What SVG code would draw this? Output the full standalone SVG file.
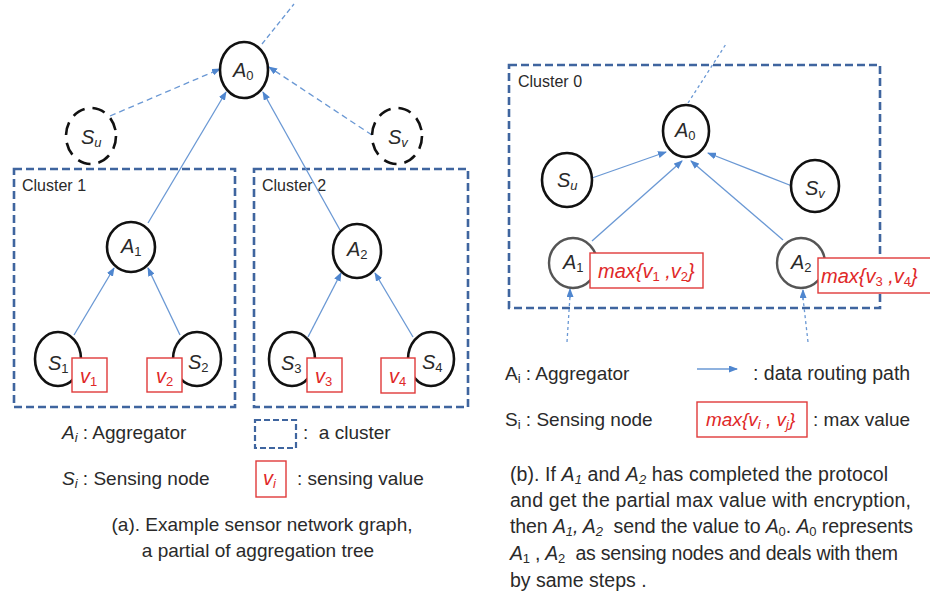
<svg xmlns="http://www.w3.org/2000/svg" width="930" height="592" viewBox="0 0 930 592">
<style>
text{font-family:"Liberation Sans","DejaVu Sans",sans-serif;fill:#2a2a2a}
.node{fill:#fff;stroke:#111;stroke-width:2.6}
.gnode{fill:#fff;stroke:#555;stroke-width:2.4}
.dnode{fill:#fff;stroke:#111;stroke-width:2.6;stroke-dasharray:13 8}
.clu{fill:none;stroke:#3f659f;stroke-width:2.6;stroke-dasharray:8 4}
.val{fill:#fff;stroke:#e03a3a;stroke-width:1.4}
.red{fill:#e02828}
.lbl{font-size:20px}
.it{font-style:italic}
.sub{font-size:13px}
.ar{stroke:#6a98d4;stroke-width:1.3;fill:none;marker-end:url(#ah)}
.dar{stroke:#6a98d4;stroke-width:1.3;fill:none;stroke-dasharray:6 4;marker-end:url(#ah)}
.dot{stroke:#6a98d4;stroke-width:1.3;fill:none;stroke-dasharray:3 3}
.leg{font-size:19px}
.par{font-size:19.5px}
</style>
<defs>
<marker id="ah" markerWidth="9" markerHeight="7" refX="8" refY="3.5" orient="auto" markerUnits="userSpaceOnUse">
<path d="M0,0 L9,3.5 L0,7 z" fill="#4f86cf"/>
</marker>
</defs>

<!-- clusters -->
<g id="cluster1"><rect class="clu" x="14" y="169" width="221" height="238"/><text x="22" y="191" font-size="16">Cluster 1</text></g>
<g id="cluster2"><rect class="clu" x="254" y="169" width="214" height="238"/><text x="262" y="191" font-size="16">Cluster 2</text></g>
<g id="cluster0"><rect class="clu" x="509" y="65" width="371" height="243"/><text x="518" y="87" font-size="16">Cluster 0</text></g>

<!-- connectors -->
<g id="connectors">
<line class="dot" x1="262" y1="44" x2="294" y2="4" style="stroke-dasharray:5 3"/>
<line class="dar" x1="110" y1="116" x2="220" y2="69"/>
<line class="dar" x1="372" y1="135" x2="269" y2="67"/>
<line class="ar" x1="148" y1="223" x2="226" y2="92"/>
<line class="ar" x1="340" y1="230" x2="263" y2="92"/>
<line class="ar" x1="74" y1="335" x2="114" y2="268"/>
<line class="ar" x1="180" y1="335" x2="148" y2="268"/>
<line class="ar" x1="308" y1="337" x2="341" y2="273"/>
<line class="ar" x1="413" y1="337" x2="375" y2="273"/>
<line class="dot" x1="688" y1="103" x2="726" y2="44"/>
<line class="ar" x1="592" y1="178" x2="666" y2="152"/>
<line class="ar" x1="592" y1="241" x2="682" y2="161"/>
<line class="ar" x1="783" y1="240" x2="691" y2="161"/>
<line class="ar" x1="792" y1="186" x2="708" y2="153"/>
<line class="dot" x1="567" y1="342" x2="570" y2="296"/>
<line class="ar" x1="570" y1="298" x2="570" y2="289"/>
<line class="dot" x1="808" y1="342" x2="803" y2="298"/>
<line class="ar" x1="803" y1="300" x2="803" y2="290"/>
</g>

<!-- left panel nodes -->
<g id="a0_left"><ellipse class="node" cx="244" cy="70" rx="24" ry="28"/><text class="lbl" x="233" y="77"><tspan class="it">A</tspan><tspan class="sub" dy="3">0</tspan></text></g>
<g id="su_left"><ellipse class="dnode" cx="91" cy="136" rx="25" ry="28"/><text class="lbl" x="81" y="144"><tspan class="it">S</tspan><tspan class="sub it" dy="3">u</tspan></text></g>
<g id="sv_left"><ellipse class="dnode" cx="397" cy="136" rx="25" ry="28"/><text class="lbl" x="388" y="144"><tspan class="it">S</tspan><tspan class="sub it" dy="3">v</tspan></text></g>
<g id="a1_left"><ellipse class="node" cx="131" cy="247" rx="24" ry="25"/><text class="lbl" x="121" y="253"><tspan class="it">A</tspan><tspan class="sub" dy="3">1</tspan></text></g>
<g id="a2_left"><ellipse class="node" cx="357" cy="251" rx="24" ry="27"/><text class="lbl" x="347" y="256"><tspan class="it">A</tspan><tspan class="sub" dy="3">2</tspan></text></g>
<g id="s1"><ellipse class="node" cx="58" cy="359" rx="23" ry="27"/><text class="lbl" x="48" y="370"><tspan class="it">S</tspan><tspan class="sub" dy="3">1</tspan></text></g>
<g id="s2"><ellipse class="node" cx="197" cy="359" rx="24" ry="27"/><text class="lbl" x="188" y="369"><tspan class="it">S</tspan><tspan class="sub" dy="3">2</tspan></text></g>
<g id="s3"><ellipse class="node" cx="292" cy="359" rx="23" ry="27"/><text class="lbl" x="281" y="370"><tspan class="it">S</tspan><tspan class="sub" dy="3">3</tspan></text></g>
<g id="s4"><ellipse class="node" cx="431" cy="359" rx="23" ry="27"/><text class="lbl" x="422" y="369"><tspan class="it">S</tspan><tspan class="sub" dy="3">4</tspan></text></g>
<g id="v1"><rect class="val" x="72" y="358" width="35" height="34"/><text class="lbl red" x="80" y="383"><tspan class="it">v</tspan><tspan class="sub" dy="3">1</tspan></text></g>
<g id="v2"><rect class="val" x="147" y="358" width="35" height="34"/><text class="lbl red" x="156" y="383"><tspan class="it">v</tspan><tspan class="sub" dy="3">2</tspan></text></g>
<g id="v3"><rect class="val" x="307" y="358" width="35" height="34"/><text class="lbl red" x="315" y="383"><tspan class="it">v</tspan><tspan class="sub" dy="3">3</tspan></text></g>
<g id="v4"><rect class="val" x="381" y="358" width="34" height="35"/><text class="lbl red" x="389" y="383"><tspan class="it">v</tspan><tspan class="sub" dy="3">4</tspan></text></g>

<!-- right panel nodes -->
<g id="a0_right"><ellipse class="node" cx="686" cy="131" rx="23" ry="26"/><text class="lbl" x="675" y="137"><tspan class="it">A</tspan><tspan class="sub" dy="3">0</tspan></text></g>
<g id="su_right"><ellipse class="node" cx="567" cy="180" rx="25" ry="27"/><text class="lbl" x="557" y="187"><tspan class="it">S</tspan><tspan class="sub it" dy="3">u</tspan></text></g>
<g id="sv_right"><ellipse class="node" cx="815" cy="186" rx="24" ry="26"/><text class="lbl" x="805" y="195"><tspan class="it">S</tspan><tspan class="sub it" dy="3">v</tspan></text></g>
<g id="a1_right"><ellipse class="gnode" cx="573" cy="263" rx="24" ry="25"/><text class="lbl" x="563" y="269"><tspan class="it">A</tspan><tspan class="sub" dy="3">1</tspan></text></g>
<g id="a2_right"><ellipse class="gnode" cx="801" cy="263" rx="24" ry="25"/><text class="lbl" x="791" y="269"><tspan class="it">A</tspan><tspan class="sub" dy="3">2</tspan></text></g>
<g id="max1"><rect class="val" x="590" y="253" width="113" height="35"/><text class="lbl red" x="598" y="278"><tspan class="it">max{v</tspan><tspan class="sub" dy="3">1</tspan><tspan dy="-3" class="it"> ,v</tspan><tspan class="sub" dy="3">2</tspan><tspan dy="-3" class="it">}</tspan></text></g>
<g id="max2"><rect class="val" x="818" y="258" width="118" height="35"/><text class="lbl red" x="821" y="283"><tspan class="it">max{v</tspan><tspan class="sub" dy="3">3</tspan><tspan dy="-3" class="it"> ,v</tspan><tspan class="sub" dy="3">4</tspan><tspan dy="-3" class="it">}</tspan></text></g>

<!-- legend (a) -->
<g id="legend_a">
<text class="leg" x="62" y="439"><tspan class="it">A</tspan><tspan class="sub it" dy="3">i</tspan><tspan dy="-3"> : Aggregator</tspan></text>
<rect class="clu" x="255" y="420" width="41" height="28" style="stroke-width:2.2;stroke-dasharray:6 3"/>
<text class="leg" x="303" y="439">:&#160; a cluster</text>
<text class="leg" x="62" y="485"><tspan class="it">S</tspan><tspan class="sub it" dy="3">i</tspan><tspan dy="-3"> : Sensing node</tspan></text>
<rect class="val" x="256" y="461" width="30" height="36"/>
<text class="lbl red" x="263" y="485"><tspan class="it">v</tspan><tspan class="sub it" dy="3">i</tspan></text>
<text class="leg" x="297" y="485">: sensing value</text>
<text class="leg" x="262" y="531" text-anchor="middle">(a). Example sensor network graph,</text>
<text class="leg" x="258" y="557" text-anchor="middle">a partial of aggregation tree</text>
</g>

<!-- legend (b) -->
<g id="legend_b">
<text class="leg" x="505" y="380">A<tspan class="sub" dy="3">i</tspan><tspan dy="-3"> : Aggregator</tspan></text>
<line class="ar" x1="697" y1="369" x2="737" y2="369"/>
<text class="leg" x="753" y="380" style="font-size:19.5px">: data routing path</text>
<text class="leg" x="505" y="426">S<tspan class="sub" dy="3">i</tspan><tspan dy="-3"> : Sensing node</tspan></text>
<rect class="val" x="697" y="402" width="110" height="35"/>
<text class="leg red" x="706" y="426"><tspan class="it">max{v</tspan><tspan class="sub it" dy="3">i</tspan><tspan dy="-3" class="it"> , v</tspan><tspan class="sub it" dy="3">j</tspan><tspan dy="-3" class="it">}</tspan></text>
<text class="leg" x="813" y="426">: max value</text>
<text class="par" x="510" y="481" textLength="378" lengthAdjust="spacing">(b). If <tspan class="it">A</tspan><tspan class="sub it" dy="3">1</tspan><tspan dy="-3"> and </tspan><tspan class="it">A</tspan><tspan class="sub it" dy="3">2</tspan><tspan dy="-3"> has completed the protocol</tspan></text>
<text class="par" x="510" y="507" textLength="401" lengthAdjust="spacing">and get the partial max value with encryption,</text>
<text class="par" x="510" y="533" textLength="403" lengthAdjust="spacing">then <tspan class="it">A</tspan><tspan class="sub it" dy="3">1</tspan><tspan dy="-3" class="it">, A</tspan><tspan class="sub it" dy="3">2</tspan><tspan dy="-3">&#160; send the value to </tspan><tspan class="it">A</tspan><tspan class="sub" dy="3">0</tspan><tspan dy="-3">. </tspan><tspan class="it">A</tspan><tspan class="sub" dy="3">0</tspan><tspan dy="-3"> represents</tspan></text>
<text class="par" x="510" y="560" textLength="388" lengthAdjust="spacing"><tspan class="it">A</tspan><tspan class="sub" dy="3">1</tspan><tspan dy="-3"> , </tspan><tspan class="it">A</tspan><tspan class="sub" dy="3">2</tspan><tspan dy="-3">&#160; as sensing nodes and deals with them</tspan></text>
<text class="par" x="510" y="587">by same steps .</text>
</g>
</svg>
